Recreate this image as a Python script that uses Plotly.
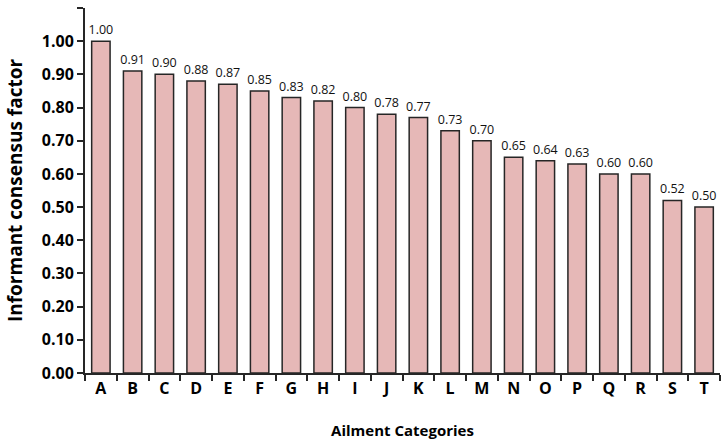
import plotly.graph_objects as go

categories = list("ABCDEFGHIJKLMNOPQRST")
icf_values = [1.00, 0.91, 0.90, 0.88, 0.87, 0.85, 0.83, 0.82, 0.80, 0.78,
              0.77, 0.73, 0.70, 0.65, 0.64, 0.63, 0.60, 0.60, 0.52, 0.50]
y_ticks = [round(i * 0.1, 2) for i in range(12)]

fig = go.Figure(go.Bar(
    x=categories, y=icf_values,
    marker=dict(color="#E6B8B7", line=dict(color="#262626", width=1.5)),
    texttemplate="%{y:.2f}", textposition="outside", cliponaxis=False,
    constraintext="none",
    textfont=dict(family="Open Sans", size=12.5, color="#111"),
))

fig.update_layout(
    width=721, height=446,
    margin=dict(l=85, r=1, t=8, b=73),
    plot_bgcolor="white", paper_bgcolor="white",
    bargap=0.42, showlegend=False,
    font=dict(family="Open Sans", color="black"),
)
fig.update_xaxes(
    automargin=False,
    showline=True, linecolor="#262626", linewidth=2,
    ticks="outside", tickson="boundaries", ticklen=6, tickwidth=2, tickcolor="#262626",
    tickfont=dict(family="Open Sans", size=16, color="black", weight="bold"),
    title=dict(text="<b>Ailment Categories</b>", font=dict(family="Open Sans", size=15), standoff=27),
    showgrid=False,
)
fig.update_yaxes(
    automargin=False,
    range=[0, 1.1], tickvals=y_ticks, tickformat=".2f",
    showline=True, linecolor="#262626", linewidth=2,
    ticks="outside", ticklen=6, tickwidth=2, tickcolor="#262626",
    tickfont=dict(family="Open Sans", size=16, color="black", weight="bold"),
    title=dict(text="<b>Informant consensus factor</b>", font=dict(family="Open Sans", size=19), standoff=14),
    showgrid=False, zeroline=False,
)

fig.write_html("out.html", config={"displayModeBar": False},
               post_script="document.body.style.margin='0';document.body.style.overflow='hidden';")
